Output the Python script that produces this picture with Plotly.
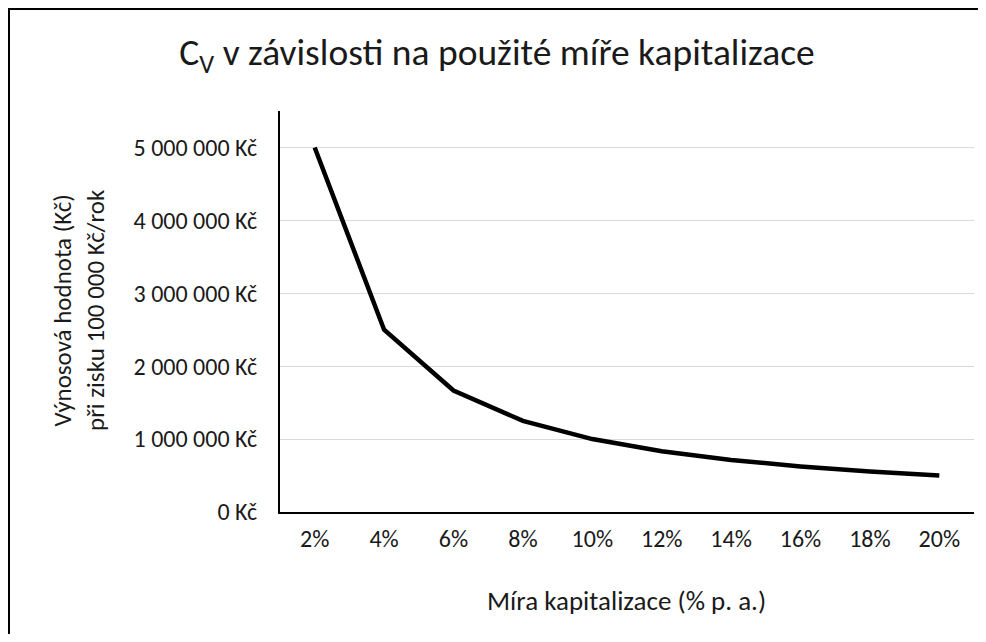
import plotly.graph_objects as go

# Data
categories = ["2%", "4%", "6%", "8%", "10%", "12%", "14%", "16%", "18%", "20%"]
values = [5000000, 2500000, 1666667, 1250000, 1000000, 833333, 714286, 625000, 555556, 500000]
y_tick_values = [0, 1000000, 2000000, 3000000, 4000000, 5000000]
y_tick_labels = ["0 Kč", "1 000 000 Kč", "2 000 000 Kč", "3 000 000 Kč", "4 000 000 Kč", "5 000 000 Kč"]

FONT = "Calibri, Carlito, Lato, sans-serif"
OFF = 8  # page body margin
W, H = 970, 626
# plot area in page pixels: x 280..974, y 111..512
L, T = 280 - OFF, 111 - OFF
R = W - (974 - OFF)
B = H - (512 - OFF)
pw, ph = W - L - R, H - T - B

def px_x(p):
    return (p - OFF - L) / pw

def px_y(p):
    return (H - B - (p - OFF)) / ph

fig = go.Figure()
fig.add_trace(go.Scatter(
    x=categories, y=values, mode="lines",
    line=dict(color="black", width=4.5),
    showlegend=False, hoverinfo="skip",
))

fig.update_layout(
    width=W, height=H,
    margin=dict(l=L, r=R, t=T, b=B),
    paper_bgcolor="white", plot_bgcolor="white",
    font=dict(family=FONT, color="#1a1a1a", size=24),
    title=dict(
        text="C<sub>V</sub> v závislosti na použité míře kapitalizace",
        x=(497 - OFF) / W, xanchor="center", xref="container",
        y=1 - (52 - OFF) / H, yanchor="middle", yref="container",
        font=dict(family=FONT, size=37.5, color="#1a1a1a"),
    ),
    xaxis=dict(
        type="category", range=[-0.5, len(categories) - 0.5],
        showgrid=False, zeroline=False,
        showline=True, linecolor="black", linewidth=2,
        ticks="", ticklabelstandoff=4,
        tickfont=dict(family=FONT, size=24, color="#1a1a1a"),
    ),
    yaxis=dict(
        range=[0, 5500000],
        tickvals=y_tick_values, ticktext=y_tick_labels,
        showgrid=True, gridcolor="#d9d9d9", gridwidth=1,
        zeroline=False,
        showline=True, linecolor="black", linewidth=2,
        ticks="", ticklabelstandoff=16,
        tickfont=dict(family=FONT, size=24, color="#1a1a1a"),
    ),
    annotations=[
        dict(text="Výnosová hodnota (Kč)<br>při zisku 100 000 Kč/rok",
             x=px_x(79), y=px_y(310), xref="paper", yref="paper",
             xanchor="center", yanchor="middle", textangle=-90, showarrow=False,
             font=dict(family=FONT, size=25, color="#1a1a1a")),
        dict(text="Míra kapitalizace (% p. a.)",
             x=px_x(626), y=px_y(600), xref="paper", yref="paper",
             xanchor="center", yanchor="middle", showarrow=False,
             font=dict(family=FONT, size=27, color="#1a1a1a")),
    ],
    shapes=[
        dict(type="line", xref="paper", yref="paper",
             x0=px_x(8), x1=px_x(1200), y0=px_y(9), y1=px_y(9),
             line=dict(color="black", width=2), layer="below"),
        dict(type="line", xref="paper", yref="paper",
             x0=px_x(9), x1=px_x(9), y0=px_y(8), y1=px_y(900),
             line=dict(color="black", width=2), layer="below"),
    ],
)

fig.write_html("out.html")
